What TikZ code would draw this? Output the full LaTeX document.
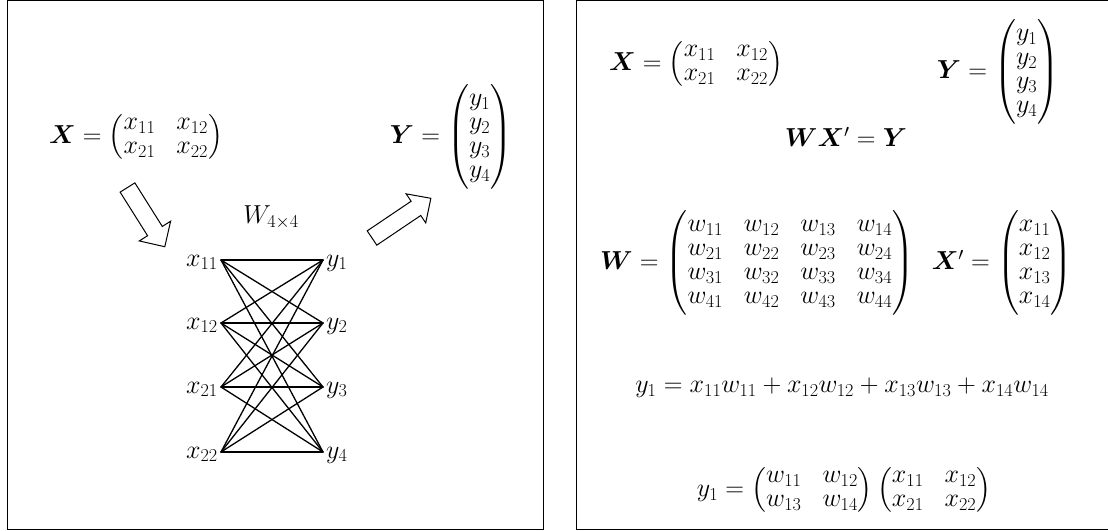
\RequirePackage{fix-cm}
\documentclass[tikz,border=0pt]{standalone}
\usepackage{amsmath,bm}
\usepackage{tikz}
\usetikzlibrary{positioning,calc}
\newcommand{\eqfont}{\fontsize{26}{24}\selectfont\setlength{\arraycolsep}{10.5pt}}
\tikzset{
  mathbox/.style={inner sep=0pt, font=\eqfont},
  panelline/.style={draw=black, line width=1pt},
  wire/.style={line width=1.3pt, line cap=round},
  blockarrow/.style={draw=black, line width=1pt, fill=white, line join=miter}
}
\begin{document}
\begin{tikzpicture}[x=1pt,y=-1pt]
  \useasboundingbox (0,0) rectangle (1108,530);
  % panels
  \draw[panelline] (7,0.5) rectangle (543,529);
  \draw[panelline] (1108,0.5) -- (576,0.5) -- (576,529) -- (1108,529);

  % left panel
  \node[mathbox] (Xin) at (136,137) {$\bm{X} = \begin{pmatrix} x_{11} & x_{12}\\ x_{21} & x_{22}\end{pmatrix}$};
  \node[mathbox] (Yout) at (451,137) {$\bm{Y} = \begin{pmatrix} y_1\\ y_2\\ y_3\\ y_4\end{pmatrix}$};
  \node[mathbox] (wsize) at (271,217) {$W_{4\times 4}$};
  \draw[blockarrow, shift={(127.5,187.5)}, rotate=-57.8]
    (0,-8.7) -- (51.5,-8.7) -- (51.5,-18.5) -- (70,0) -- (51.5,18.5) -- (51.5,8.7) -- (0,8.7) -- cycle;
  \draw[blockarrow, shift={(372,238)}, rotate=34]
    (0,-8.6) -- (53,-8.6) -- (53,-17.5) -- (71,0) -- (53,17.5) -- (53,8.6) -- (0,8.6) -- cycle;

  \foreach \n/\t/\yy in {x11/x_{11}/260, x12/x_{12}/323, x21/x_{21}/387, x22/x_{22}/452}{
    \coordinate (\n) at (221,\yy);
    \node[mathbox, anchor=base east] (l\n) at ([xshift=-3pt,yshift=-6pt]\n) {$\t$};
  }
  \foreach \n/\t/\yy in {y1/y_1/260, y2/y_2/323, y3/y_3/387, y4/y_4/452}{
    \coordinate (\n) at (323,\yy);
    \node[mathbox, anchor=base west] (l\n) at ([xshift=3pt,yshift=-6pt]\n) {$\t$};
  }
  \foreach \a in {x11,x12,x21,x22}
    \foreach \b in {y1,y2,y3,y4}
      \draw[wire] (\a) -- (\b);

  % right panel
  \node[mathbox] (Xr) at (696,64) {$\bm{X} = \begin{pmatrix} x_{11} & x_{12}\\ x_{21} & x_{22}\end{pmatrix}$};
  \node[mathbox] (Yr) at (998,72) {$\bm{Y} = \begin{pmatrix} y_1\\ y_2\\ y_3\\ y_4\end{pmatrix}$};
  \node[mathbox] (prodeq) at (846,137) {$\bm{W}\bm{X}' = \bm{Y}$};
  \node[mathbox] (Wr) at (757,263) {$\bm{W} = \begin{pmatrix}
      w_{11} & w_{12} & w_{13} & w_{14}\\
      w_{21} & w_{22} & w_{23} & w_{24}\\
      w_{31} & w_{32} & w_{33} & w_{34}\\
      w_{41} & w_{42} & w_{43} & w_{44}\end{pmatrix}$};
  \node[mathbox] (Xcol) at (1002,263) {$\bm{X}' = \begin{pmatrix} x_{11}\\ x_{12}\\ x_{13}\\ x_{14}\end{pmatrix}$};
  \node[mathbox] (sumeq) at (842,388) {$y_1 = x_{11}w_{11} + x_{12}w_{12} + x_{13}w_{13} + x_{14}w_{14}$};
  \node[mathbox] (mateq) at (844,490) {$y_1 = \begin{pmatrix} w_{11} & w_{12}\\ w_{13} & w_{14}\end{pmatrix}\begin{pmatrix} x_{11} & x_{12}\\ x_{21} & x_{22}\end{pmatrix}$};
\end{tikzpicture}
\end{document}
